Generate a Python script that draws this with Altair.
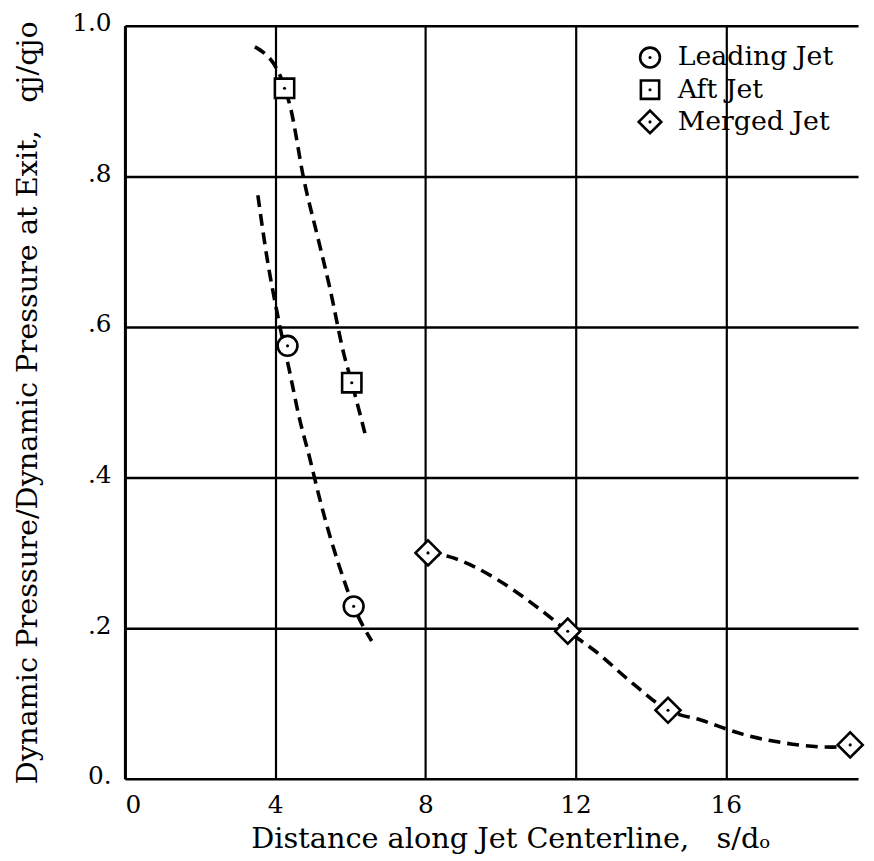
import altair as alt
import pandas as pd

# ---- data ----
series_names = ["Leading Jet", "Aft Jet", "Merged Jet"]
series_shapes = ["circle", "square", "diamond"]
series_sizes = [400, 380, 640]

leading_x = [4.33, 6.09]
leading_y = [0.575, 0.229]
aft_x = [4.25, 6.04]
aft_y = [0.917, 0.526]
merged_x = [8.07, 11.79, 14.46, 19.31]
merged_y = [0.300, 0.196, 0.091, 0.045]

# faired dashed curves
lead_curve_x = [3.54, 3.77, 4.06, 4.38, 4.64, 4.91, 5.17, 5.46, 5.73, 6.09, 6.57]
lead_curve_y = [0.775, 0.696, 0.617, 0.542, 0.480, 0.428, 0.375, 0.322, 0.279, 0.229, 0.183]
aft_curve_x = [3.46, 4.14, 4.25, 4.38, 4.78, 5.12, 5.46, 5.83, 6.04, 6.39]
aft_curve_y = [0.972, 0.933, 0.917, 0.897, 0.792, 0.722, 0.651, 0.564, 0.526, 0.459]
merged_curve_x = [8.07, 8.63, 9.87, 10.92, 11.79, 12.51, 13.56, 14.46, 15.33, 16.46, 17.78, 18.84, 19.31]
merged_curve_y = [0.300, 0.295, 0.266, 0.230, 0.196, 0.170, 0.125, 0.091, 0.078, 0.059, 0.046, 0.042, 0.045]

x_ticks = [0, 4, 8, 12, 16]
y_ticks = [0, 0.2, 0.4, 0.6, 0.8, 1.0]

FONT = "DejaVu Serif"
NB = "\u00a0"

series_xy = [(leading_x, leading_y), (aft_x, aft_y), (merged_x, merged_y)]
pts = pd.DataFrame(
    [{"x": a, "y": b, "series": name}
     for name, (xs, ys) in zip(series_names, series_xy) for a, b in zip(xs, ys)]
)
curves = pd.DataFrame(
    [{"x": a, "y": b, "curve": "lead", "o": i} for i, (a, b) in enumerate(zip(lead_curve_x, lead_curve_y))]
    + [{"x": a, "y": b, "curve": "aft", "o": i} for i, (a, b) in enumerate(zip(aft_curve_x, aft_curve_y))]
    + [{"x": a, "y": b, "curve": "merged", "o": i} for i, (a, b) in enumerate(zip(merged_curve_x, merged_curve_y))]
)

xscale = alt.Scale(domain=[0, 19.52], nice=False, zero=False)
yscale = alt.Scale(domain=[0, 1.0], nice=False)

x_enc = alt.X("x:Q", scale=xscale, axis=alt.Axis(
    values=x_ticks, grid=True, gridColor="black", gridWidth=2.2, domain=False, ticks=False,
    labelFont=FONT, labelFontSize=25, labelColor="black", labelPadding=14,
    title="Distance along Jet Centerline," + NB + NB + " s/dₒ", titleFont=FONT, titleFontSize=29,
    titleFontWeight="normal", titleColor="black", titleX=389, titleY=69,
    titleAlign="center", titleBaseline="alphabetic"))
y_enc = alt.Y("y:Q", scale=yscale, axis=alt.Axis(
    values=y_ticks, grid=True, gridColor="black", gridWidth=2.5, domain=True,
    domainColor="black", domainWidth=3, ticks=False,
    labelExpr="datum.value == 0 ? '0.' : (datum.value == 1 ? '1.0' : '.' + toString(round(datum.value * 10)))",
    labelFont=FONT, labelFontSize=25, labelColor="black", labelPadding=14, labelOffset=-3,
    title="Dynamic Pressure/Dynamic Pressure at Exit," + NB + NB + " qj/qjo", titleFont=FONT, titleFontSize=29,
    titleFontWeight="normal", titleColor="black", titleX=-89, titleBaseline="alphabetic"))

lines = alt.Chart(curves).mark_line(
    color="black", strokeWidth=3.6, strokeDash=[12, 7], interpolate="monotone"
).encode(x=x_enc, y=y_enc, detail="curve:N", order="o:Q")

shape_scale = alt.Scale(domain=series_names, range=series_shapes)

marker_layers = []
for name, size in zip(series_names, series_sizes):
    marker_layers.append(
        alt.Chart(pts[pts["series"] == name]).mark_point(
            filled=True, fill="white", stroke="black",
            strokeWidth=2.6, opacity=1, size=size
        ).encode(
            x="x:Q", y="y:Q",
            shape=alt.Shape("series:N", scale=shape_scale, legend=None),
        )
    )

dots = alt.Chart(pts).mark_point(filled=True, color="black", size=10, opacity=1).encode(x="x:Q", y="y:Q")

# ---- legend box (drawn as marks, positioned in the upper right of the plot) ----
legend_layers = []
LEG_SYM_X, LEG_TXT_X, LEG_Y0, LEG_DY = 530, 558, 32, 32.5
legend_sym_sizes = [400, 340, 520]
for i, (name, shp, sz) in enumerate(zip(series_names, series_shapes, legend_sym_sizes)):
    row = pd.DataFrame({"label": [name]})
    ypos = LEG_Y0 + i * LEG_DY
    legend_layers.append(alt.Chart(row).mark_point(
        shape=shp, size=sz, filled=True, fill="white", stroke="black", strokeWidth=2.6, opacity=1
    ).encode(x=alt.value(LEG_SYM_X), y=alt.value(ypos)))
    legend_layers.append(alt.Chart(row).mark_point(
        filled=True, color="black", size=10, opacity=1
    ).encode(x=alt.value(LEG_SYM_X), y=alt.value(ypos)))
    legend_layers.append(alt.Chart(row).mark_text(
        align="left", baseline="middle", font=FONT, fontSize=27, color="black", dy=0
    ).encode(x=alt.value(LEG_TXT_X), y=alt.value(ypos), text="label:N"))

chart = alt.layer(lines, *marker_layers, dots, *legend_layers).properties(
    width=740, height=760,
    autosize=alt.AutoSizeParams(type="none"),
    padding={"left": 118, "top": 14, "right": 8, "bottom": 77},
    background="white",
).configure_view(stroke=None)

chart.save("out.html", embed_options={"renderer": "svg", "actions": False})
